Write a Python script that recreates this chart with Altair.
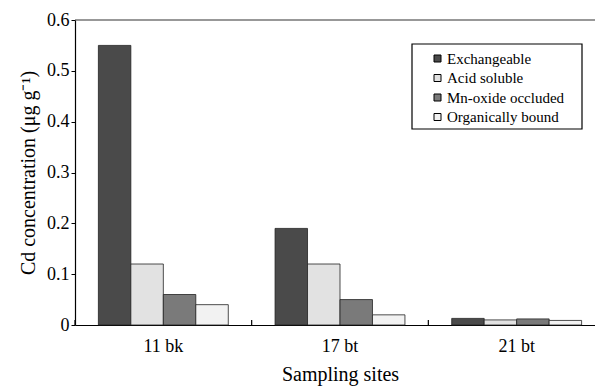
import altair as alt
import pandas as pd

# Cd fractions at three sampling sites (ug/g)
sites = ["11 bk", "17 bt", "21 bt"]
fractions = ["Exchangeable", "Acid soluble", "Mn-oxide occluded", "Organically bound"]
exchangeable = [0.55, 0.19, 0.013]
acid_soluble = [0.12, 0.12, 0.010]
mn_oxide = [0.06, 0.05, 0.012]
organically_bound = [0.04, 0.02, 0.009]
y_ticks = [0, 0.1, 0.2, 0.3, 0.4, 0.5, 0.6]
fills = ["#4a4a4a", "#e2e2e2", "#7a7a7a", "#f2f2f2"]

rows = []
for name, vals in zip(fractions, [exchangeable, acid_soluble, mn_oxide, organically_bound]):
    for s, v in zip(sites, vals):
        rows.append({"site": s, "fraction": name, "cd": v})
df = pd.DataFrame(rows)
site_df = pd.DataFrame({"site": sites})
one_row = pd.DataFrame({"k": [0]})

FONT = "Liberation Serif"
W, H = 520, 305

x_scale = alt.Scale(domain=sites, range=[0, 530], paddingInner=0, paddingOuter=0)
x_axis = alt.Axis(
    title="Sampling sites", labelAngle=0, ticks=False, labelPadding=12,
    titlePadding=9, labelFontSize=18, titleFontSize=20,
)
y_scale = alt.Scale(domain=[0, 0.6], nice=False)
y_axis = alt.Axis(
    title="Cd concentration (μg g⁻¹)", values=y_ticks, format=".1~f",
    tickSize=4, labelPadding=2, titlePadding=8, labelFontSize=18,
    titleFontSize=20, grid=False,
)

bars = alt.Chart(df).mark_bar(stroke="#222222", strokeWidth=0.8).encode(
    x=alt.X("site:N", scale=x_scale, axis=x_axis),
    xOffset=alt.XOffset("fraction:N", sort=fractions,
                        scale=alt.Scale(domain=fractions, paddingOuter=0.72, paddingInner=0)),
    y=alt.Y("cd:Q", scale=y_scale, axis=y_axis),
    color=alt.Color(
        "fraction:N",
        scale=alt.Scale(domain=fractions, range=fills),
        legend=alt.Legend(
            title=None, orient="none", legendX=355, legendY=31,
            symbolType="square", symbolSize=49, symbolStrokeColor="black",
            symbolStrokeWidth=1, labelFontSize=15, labelOffset=2,
            rowPadding=3.5, padding=0,
        ),
    ),
)

# small ticks between site groups, pointing into the plot
group_ticks = alt.Chart(site_df).mark_rule(color="black", strokeWidth=1.2).encode(
    x=alt.X("site:N", scale=x_scale, axis=x_axis, bandPosition=0),
    y=alt.value(H),
    y2=alt.value(H - 5),
)

# top frame line
top_line = alt.Chart(one_row).mark_rule(color="#333333", strokeWidth=1.2).encode(
    x=alt.value(0), x2=alt.value(530), y=alt.value(0),
)

# legend frame
legend_box = alt.Chart(one_row).mark_rect(fill="white", fillOpacity=0, stroke="black", strokeWidth=1.2).encode(
    x=alt.value(337), x2=alt.value(507), y=alt.value(24), y2=alt.value(109),
)

chart = alt.layer(bars, group_ticks, top_line, legend_box).properties(
    width=W, height=H,
    autosize=alt.AutoSizeParams(type="none"),
    padding={"left": 75, "top": 20, "right": 0, "bottom": 64},
).configure(
    font=FONT,
).configure_view(
    stroke=None,
).configure_axis(
    domainColor="black", domainWidth=1.2, tickColor="black",
    labelColor="black", titleColor="black", labelFont=FONT, titleFont=FONT,
    titleFontWeight="normal",
).configure_legend(
    labelFont=FONT, labelColor="black",
)

chart.save("out.html", embed_options={"renderer": "svg", "actions": False})
